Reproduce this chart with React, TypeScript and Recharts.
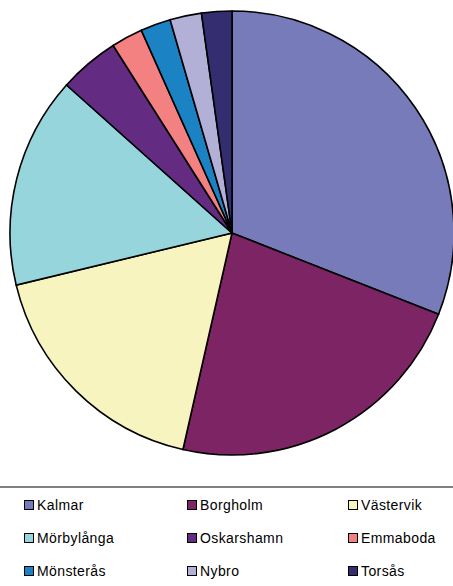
import { PieChart, Pie, Cell, Legend } from 'recharts'

const kommuner = [
  'Kalmar',
  'Borgholm',
  'Västervik',
  'Mörbylånga',
  'Oskarshamn',
  'Emmaboda',
  'Mönsterås',
  'Nybro',
  'Torsås',
]
const andelar = [31.0, 22.6, 17.7, 15.4, 4.4, 2.3, 2.2, 2.3, 2.2]
const farger = [
  '#777bba',
  '#7d2465',
  '#f7f4c0',
  '#95d5db',
  '#632b82',
  '#f48181',
  '#1b83c3',
  '#b3b0d8',
  '#342e70',
]

const data = kommuner.map((name, i) => ({ name, value: andelar[i] }))

function LegendBox() {
  return (
    <div
      style={{
        width: 453,
        borderTop: '2px solid #808080',
        paddingTop: 8,
        fontFamily: 'Arial, "Liberation Sans", sans-serif',
        fontSize: 14,
        color: '#000',
      }}
    >
      <div style={{ display: 'grid', gridTemplateColumns: '163px 161px 129px', rowGap: 15, paddingLeft: 24 }}>
        {kommuner.map((name, i) => (
          <div key={name} style={{ display: 'flex', alignItems: 'center', height: 18 }}>
            <span
              style={{
                width: 8,
                height: 8,
                border: '1.5px solid #000',
                background: farger[i],
                marginRight: 3,
                display: 'inline-block',
              }}
            />
            <span style={{ letterSpacing: 0.4 }}>{name}</span>
          </div>
        ))}
      </div>
    </div>
  )
}

export default function App() {
  return (
    <div style={{ position: 'absolute', top: 0, left: 0, width: 453, height: 586, background: '#fff' }}>
      <PieChart width={453} height={586} margin={{ top: 0, right: 0, bottom: 0, left: 0 }}>
        <Pie
          data={data}
          dataKey="value"
          nameKey="name"
          cx={232}
          cy={233}
          outerRadius={222}
          startAngle={90}
          endAngle={-270}
          stroke="#000"
          strokeWidth={1.6}
          isAnimationActive={false}
        >
          {data.map((d, i) => (
            <Cell key={d.name} fill={farger[i]} />
          ))}
        </Pie>
        <Legend content={() => <LegendBox />} wrapperStyle={{ position: 'absolute', top: 486, left: 0, width: 453 }} />
      </PieChart>
    </div>
  )
}
